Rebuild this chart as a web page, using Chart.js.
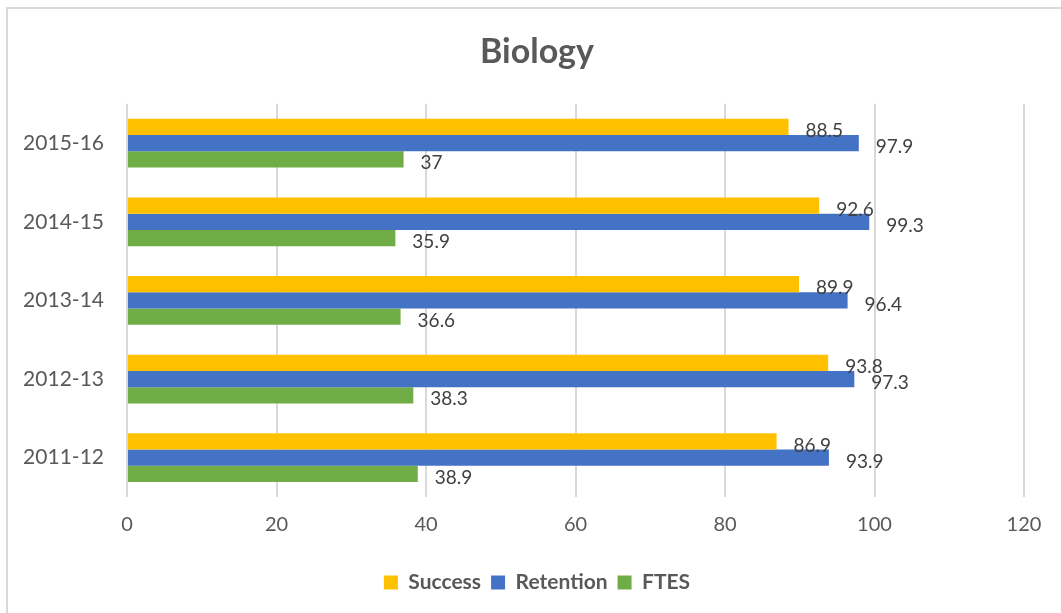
<!DOCTYPE html>
<html>
<head>
<meta charset="utf-8">
<script src="https://cdn.jsdelivr.net/npm/chart.js@4.4.0/dist/chart.umd.min.js"></script>
<style>
  html, body { margin: 0; padding: 0; background: #fff; overflow: hidden; }
  #frame { position: absolute; left: 6px; top: 7px; width: 1200px; height: 800px;
           border-left: 2px solid #d9d9d9; border-top: 2px solid #d9d9d9; }
  #wrap { position: absolute; left: 0; top: 0; width: 1061px; height: 613px; }
</style>
</head>
<body>
<div id="frame"></div>
<div id="wrap"><canvas id="bioChart" width="1061" height="613"></canvas></div>
<script>
const years     = ['2015-16', '2014-15', '2013-14', '2012-13', '2011-12'];
const success   = [88.5, 92.6, 89.9, 93.8, 86.9];
const retention = [97.9, 99.3, 96.4, 97.3, 93.9];
const ftes      = [37, 35.9, 36.6, 38.3, 38.9];
const xTicks    = [0, 20, 40, 60, 80, 100, 120];

const GREY = '#595959';

// value labels just past the end of each bar
const barLabels = {
  id: 'barLabels',
  afterDatasetsDraw(chart) {
    const ctx = chart.ctx;
    ctx.save();
    ctx.font = '19px Lato';
    ctx.fillStyle = '#404040';
    ctx.textAlign = 'left';
    ctx.textBaseline = 'middle';
    chart.data.datasets.forEach((ds, i) => {
      chart.getDatasetMeta(i).data.forEach((bar, j) => {
        ctx.fillText(String(ds.data[j]), bar.x + 17, bar.y + 4);
      });
    });
    ctx.restore();
  }
};

// title and legend sit a bit right of the canvas centre in the original
const nudgeBlocks = {
  id: 'nudgeBlocks',
  afterLayout(chart) {
    [chart.titleBlock, chart.legend].forEach(b => {
      if (!b) return;
      b.left += 25;
      b.right += 25;
    });
  }
};

new Chart(document.getElementById('bioChart'), {
  type: 'bar',
  data: {
    labels: years,
    datasets: [
      { label: 'Success',   data: success,   backgroundColor: '#FFC000' },
      { label: 'Retention', data: retention, backgroundColor: '#4472C4' },
      { label: 'FTES',      data: ftes,      backgroundColor: '#70AD47' }
    ]
  },
  options: {
    indexAxis: 'y',
    responsive: false,
    animation: false,
    datasets: { bar: { categoryPercentage: 0.62, barPercentage: 1.0 } },
    layout: { padding: { left: 0, right: 37, top: 0, bottom: 10 } },
    plugins: {
      title: {
        display: true, text: 'Biology', color: GREY,
        font: { family: 'Lato', size: 34, weight: 'bold' },
        padding: { top: 32, bottom: 31 }
      },
      legend: {
        position: 'bottom',
        labels: {
          color: GREY, boxWidth: 14, boxHeight: 14, padding: 10,
          font: { family: 'Lato', size: 21, weight: 'bold' }
        }
      },
      tooltip: { enabled: false }
    },
    scales: {
      x: {
        min: 0, max: 120,
        afterBuildTicks: s => { s.ticks = xTicks.map(v => ({ value: v })); },
        afterFit: s => { s.height = 65; },
        grid: { color: '#d9d9d9', lineWidth: 2, drawTicks: false },
        border: { display: false },
        ticks: { color: GREY, padding: 16, font: { family: 'Lato', size: 20 } }
      },
      y: {
        afterFit: s => { s.width = 127; },
        grid: { display: false, drawTicks: false },
        border: { display: false },
        ticks: { color: GREY, padding: 23, font: { family: 'Lato', size: 21 } }
      }
    }
  },
  plugins: [barLabels, nudgeBlocks]
});
</script>
</body>
</html>
